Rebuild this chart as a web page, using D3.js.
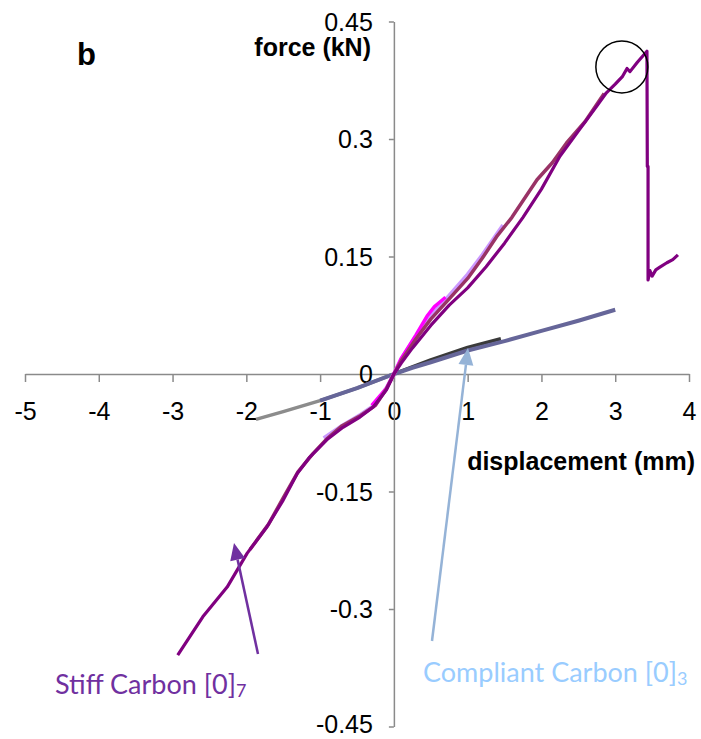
<!DOCTYPE html>
<html>
<head>
<meta charset="utf-8">
<script src="https://cdn.jsdelivr.net/npm/d3@7"></script>
<style>
  html, body { margin: 0; padding: 0; background: #fff; }
  #chart { width: 701px; height: 739px; }
</style>
</head>
<body>
<div id="chart"></div>
<script>
(function () {
  'use strict';

  // ---- data ----
  const X_TICKS = [-5, -4, -3, -2, -1, 0, 1, 2, 3, 4];
  const Y_TICKS = [-0.45, -0.3, -0.15, 0, 0.15, 0.3, 0.45];

  // stiff carbon [0]7 runs
  const STIFF_MAIN_X = [-2.93, -2.59, -2.26, -1.99, -1.72, -1.5, -1.31, -1.14, -0.91, -0.69, -0.46, -0.28, -0.1, 0,
                        0.1, 0.25, 0.5, 0.75, 1.0, 1.25, 1.5, 1.75, 2.0, 2.25, 2.5, 2.75, 2.88, 3.0, 3.1, 3.16, 3.2, 3.3, 3.43,
                        3.435, 3.445, 3.445, 3.47, 3.5, 3.55, 3.6, 3.7, 3.78, 3.85];
  const STIFF_MAIN_Y = [-0.359, -0.31, -0.272, -0.229, -0.195, -0.161, -0.127, -0.106, -0.084, -0.068, -0.055, -0.042, -0.02, 0,
                        0.014, 0.033, 0.062, 0.088, 0.11, 0.137, 0.167, 0.2, 0.236, 0.278, 0.31, 0.342, 0.359, 0.37, 0.38, 0.39, 0.386, 0.398, 0.412,
                        0.265, 0.265, 0.12, 0.132, 0.125, 0.133, 0.136, 0.142, 0.146, 0.152];

  const STIFF_B_X = [-1.95, -1.7, -1.5, -1.3, -1.1, -0.9, -0.7, -0.45, -0.25, -0.1, 0, 0.1, 0.3, 0.5, 0.75, 1.0, 1.2, 1.39, 1.6, 1.94, 2.15, 2.34, 2.59, 2.85];
  const STIFF_B_Y = [-0.224, -0.192, -0.158, -0.125, -0.102, -0.082, -0.066, -0.053, -0.04, -0.019, 0, 0.017, 0.045, 0.07, 0.096, 0.122, 0.148, 0.175, 0.2, 0.248, 0.27, 0.295, 0.322, 0.358];

  const STIFF_C_X = [-0.95, -0.7, -0.45, -0.25, -0.1, 0, 0.1, 0.3, 0.5, 0.75, 1.0, 1.2, 1.48];
  const STIFF_C_Y = [-0.082, -0.066, -0.052, -0.039, -0.018, 0, 0.019, 0.048, 0.074, 0.1, 0.127, 0.152, 0.19];

  const STIFF_D_X = [-0.3, -0.1, 0, 0.1, 0.3, 0.45, 0.55, 0.6, 0.7];
  const STIFF_D_Y = [-0.04, -0.018, 0, 0.02, 0.05, 0.074, 0.086, 0.09, 0.098];

  // compliant carbon [0]3 runs
  const COMP_MAIN_X = [-1.0, -0.5, 0, 0.25, 0.5, 1.0, 1.5, 2.0, 2.5, 3.0];
  const COMP_MAIN_Y = [-0.034, -0.018, 0, 0.008, 0.015, 0.03, 0.042, 0.055, 0.068, 0.082];

  const COMP_B_X = [0, 0.5, 1.0, 1.45];
  const COMP_B_Y = [0, 0.018, 0.034, 0.045];

  const COMP_C_X = [-1.87, -1.5, -1.0, -0.5, 0];
  const COMP_C_Y = [-0.058, -0.048, -0.034, -0.018, 0];

  const SERIES = [
    { xs: COMP_C_X,   ys: COMP_C_Y,   color: '#8c8c8c', w: 3.5 },
    { xs: COMP_B_X,   ys: COMP_B_Y,   color: '#3a3a3a', w: 3.5 },
    { xs: COMP_MAIN_X, ys: COMP_MAIN_Y, color: '#666699', w: 4 },
    { xs: STIFF_C_X,  ys: STIFF_C_Y,  color: '#cc99ff', w: 4 },
    { xs: STIFF_D_X,  ys: STIFF_D_Y,  color: '#ff00ff', w: 3.5 },
    { xs: STIFF_B_X,  ys: STIFF_B_Y,  color: '#993366', w: 3.5 },
    { xs: STIFF_MAIN_X, ys: STIFF_MAIN_Y, color: '#800080', w: 3.2 },
  ];

  const W = 701, H = 739;
  const FONT = "Arial, 'Liberation Sans', sans-serif";

  const svg = d3.select('#chart').append('svg')
    .attr('width', W).attr('height', H)
    .attr('viewBox', `0 0 ${W} ${H}`);

  const x = d3.scaleLinear().domain([-5, 4]).range([25, 689]);
  const y = d3.scaleLinear().domain([-0.45, 0.45]).range([726.5, 21.5]);

  const fmt = d => (d === 0 ? '0' : String(+d.toFixed(2)));

  // x axis through origin
  const gx = svg.append('g')
    .attr('transform', `translate(0,${y(0)})`)
    .call(d3.axisBottom(x).tickValues(X_TICKS).tickFormat(fmt)
      .tickSize(8).tickSizeOuter(0).tickPadding(20));

  // y axis through origin
  const gy = svg.append('g')
    .attr('transform', `translate(${x(0)},0)`)
    .call(d3.axisLeft(y).tickValues(Y_TICKS).tickFormat(fmt)
      .tickSize(5).tickSizeOuter(0).tickPadding(16));

  [gx, gy].forEach(g => {
    g.selectAll('path.domain').attr('stroke', '#8a8a8a').attr('stroke-width', 1.5);
    g.selectAll('.tick line').attr('stroke', '#8a8a8a').attr('stroke-width', 1.5);
    g.selectAll('.tick text')
      .attr('fill', '#000')
      .style('font-family', FONT)
      .style('font-size', '25px');
  });
  // bottom label sits right at the page edge, nudge it up a touch
  gy.selectAll('.tick text').attr('dy', d => (d === -0.45 ? '0.22em' : '0.35em'));

  // data lines
  const line = d3.line().x(d => x(d[0])).y(d => y(d[1]));
  svg.append('g').selectAll('path')
    .data(SERIES)
    .join('path')
      .attr('d', s => line(s.xs.map((v, i) => [v, s.ys[i]])))
      .attr('fill', 'none')
      .attr('stroke', s => s.color)
      .attr('stroke-width', s => s.w)
      .attr('stroke-linejoin', 'round');

  // failure marker circle
  svg.append('circle')
    .attr('cx', x(3.09)).attr('cy', y(0.392)).attr('r', 26)
    .attr('fill', 'none').attr('stroke', '#000').attr('stroke-width', 1.5);

  // titles
  svg.append('text').attr('x', 77).attr('y', 65)
    .style('font-family', FONT).style('font-size', '31px').style('font-weight', 'bold')
    .text('b');
  svg.append('text').attr('x', 371).attr('y', 56).attr('text-anchor', 'end')
    .style('font-family', FONT).style('font-size', '25px').style('font-weight', 'bold')
    .text('force (kN)');
  svg.append('text').attr('x', 695).attr('y', 470).attr('text-anchor', 'end')
    .style('font-family', FONT).style('font-size', '25px').style('font-weight', 'bold')
    .text('displacement (mm)');

  // annotation arrows
  function arrow(x1, y1, x2, y2, color) {
    const ang = Math.atan2(y2 - y1, x2 - x1);
    const len = 17, half = 7.5;
    const bx = x2 - len * Math.cos(ang), by = y2 - len * Math.sin(ang);
    svg.append('line')
      .attr('x1', x1).attr('y1', y1).attr('x2', bx).attr('y2', by)
      .attr('stroke', color).attr('stroke-width', 2.5);
    const px = -Math.sin(ang) * half, py = Math.cos(ang) * half;
    svg.append('path')
      .attr('d', `M${x2},${y2}L${bx + px},${by + py}L${bx - px},${by - py}Z`)
      .attr('fill', color);
  }
  arrow(258, 654, 234, 543, '#7030a0');
  arrow(432, 641, 468, 348, '#95b3d7');

  function label(tx, ty, main, sub, color) {
    const t = svg.append('text').attr('x', tx).attr('y', ty)
      .style('font-family', "Lato, 'Open Sans', sans-serif").style('font-size', '27px')
      .attr('fill', color);
    t.append('tspan').text(main);
    t.append('tspan').attr('dy', 3).style('font-size', '18px').text(sub);
  }
  label(55, 694, 'Stiff Carbon [0]', '7', '#7030a0');
  label(423, 682, 'Compliant Carbon [0]', '3', '#99ccff');
})();
</script>
</body>
</html>
